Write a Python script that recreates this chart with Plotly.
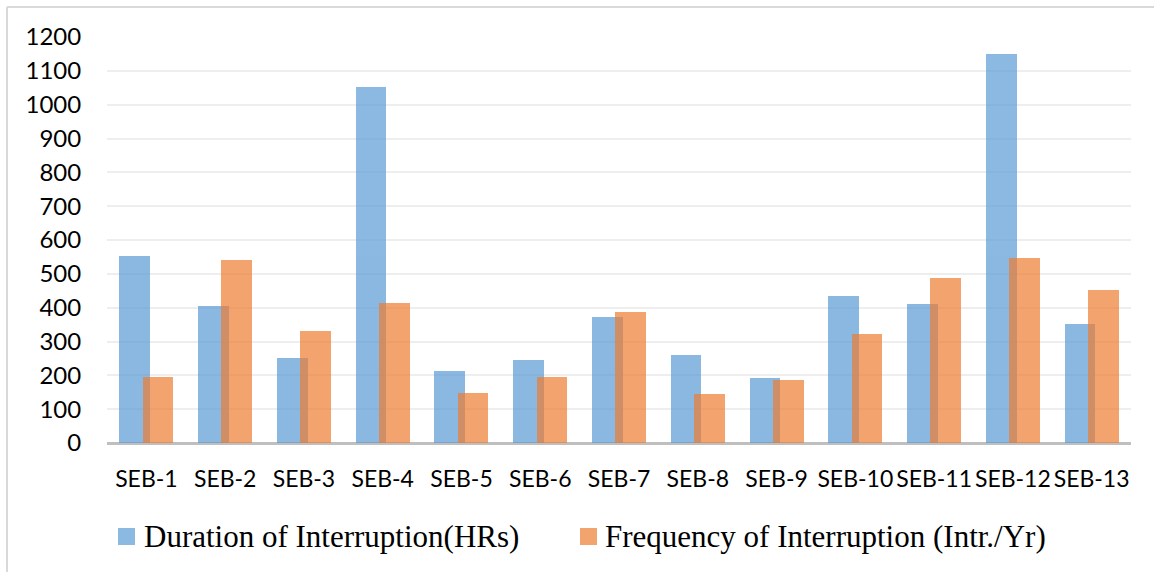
import plotly.graph_objects as go

categories = ["SEB-1", "SEB-2", "SEB-3", "SEB-4", "SEB-5", "SEB-6", "SEB-7",
              "SEB-8", "SEB-9", "SEB-10", "SEB-11", "SEB-12", "SEB-13"]
duration_hrs = [553, 405, 250, 1053, 213, 246, 371, 260, 193, 435, 410, 1150, 351]
frequency_intr = [194, 542, 330, 413, 147, 196, 386, 144, 187, 323, 487, 546, 453]
y_ticks = [0, 100, 200, 300, 400, 500, 600, 700, 800, 900, 1000, 1100, 1200]
series_names = ["Duration of Interruption(HRs)", "Frequency of Interruption (Intr./Yr)"]
series_colors = ["#5B9BD5", "#ED7D31"]

W, H = 1154, 572
L, R, T, B = 107, 23, 37, 129
pw = W - L - R
ph = H - T - B


def px_x(px):
    return (px - L) / pw


def px_y(py):
    return (H - B - py) / ph


fig = go.Figure()
fig.add_trace(go.Bar(
    x=categories, y=duration_hrs, name=series_names[0],
    marker=dict(color=series_colors[0], line=dict(width=0)), opacity=0.7,
    width=0.39, offset=-0.343, showlegend=False,
))
fig.add_trace(go.Bar(
    x=categories, y=frequency_intr, name=series_names[1],
    marker=dict(color=series_colors[1], line=dict(width=0)), opacity=0.7,
    width=0.39, offset=-0.047, showlegend=False,
))

# outer chart frame (light grey), starting at (7,7) px and running off the page
fig.add_shape(type="line", xref="paper", yref="paper",
              x0=px_x(7), x1=px_x(7), y0=px_y(7), y1=px_y(H + 10),
              line=dict(color="#D9D9D9", width=2), layer="below")
fig.add_shape(type="line", xref="paper", yref="paper",
              x0=px_x(7), x1=px_x(W + 10), y0=px_y(7), y1=px_y(7),
              line=dict(color="#D9D9D9", width=2), layer="below")

# custom legend (squares + text)
legend_sq_x = [118, 580]
legend_txt_x = [142, 603]
for sx, tx, name, col in zip(legend_sq_x, legend_txt_x, series_names, series_colors):
    fig.add_shape(type="rect", xref="paper", yref="paper",
                  x0=px_x(sx), x1=px_x(sx + 17), y0=px_y(528), y1=px_y(545),
                  fillcolor=col, opacity=0.7, line=dict(width=0))
    fig.add_annotation(xref="paper", yref="paper", x=px_x(tx), y=px_y(536),
                       xanchor="left", yanchor="middle", showarrow=False,
                       text=name,
                       font=dict(family="Liberation Serif", size=31, color="#000000"))

fig.update_layout(
    width=W, height=H,
    margin=dict(l=L, r=R, t=T, b=B, pad=0),
    paper_bgcolor="white", plot_bgcolor="white",
    barmode="overlay", bargap=0, showlegend=False,
    font=dict(family="Lato", color="#000000"),
    xaxis=dict(
        type="category", tickmode="array", tickvals=categories, ticktext=categories,
        showgrid=False, showline=False, zeroline=False,
        ticks="outside", ticklen=15, tickcolor="rgba(0,0,0,0)",
        tickfont=dict(family="Lato", size=23, color="#000000"),
        range=[-0.5, len(categories) - 0.5],
    ),
    yaxis=dict(
        range=[0, 1200], tickmode="array", tickvals=y_ticks,
        showgrid=True, gridcolor="#EEEEEE", gridwidth=1.5,
        zeroline=True, zerolinecolor="#BFBFBF", zerolinewidth=3,
        showline=False,
        ticks="outside", ticklen=20, tickcolor="rgba(0,0,0,0)",
        tickfont=dict(family="Lato", size=24, color="#000000"),
    ),
)

fig.write_html("out.html")
